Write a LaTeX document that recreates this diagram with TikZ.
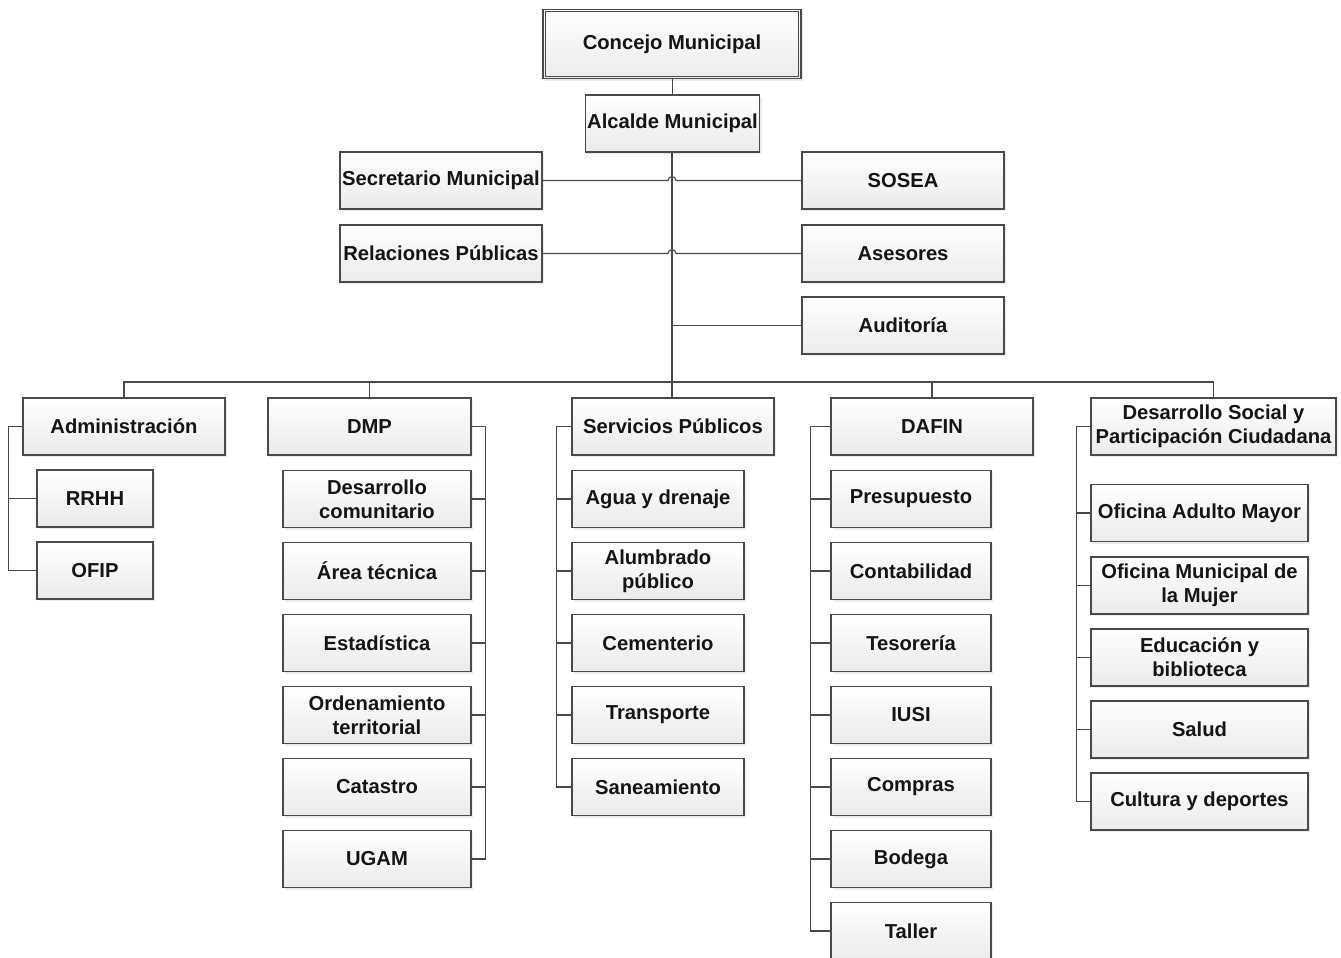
\documentclass[tikz,border=0pt]{standalone}
\usepackage{fontspec}
\setmainfont{Liberation Sans}
\usetikzlibrary{shadows,calc}
\definecolor{edge}{HTML}{4A4A4A}
\definecolor{txt}{HTML}{151515}
\tikzset{
  box/.style={draw=edge, line width=1.1pt, top color=white, bottom color=black!8,
    drop shadow={opacity=0.15, shadow xshift=2pt, shadow yshift=-2pt},
    minimum height=57pt, inner sep=2pt, align=center, text=txt,
    font=\bfseries\fontsize{20.2}{24}\selectfont},
  conn/.style={draw=edge, line width=1.1pt}
}
\begin{document}
\begin{tikzpicture}[x=1pt,y=-1pt]
\useasboundingbox (0,0) rectangle (1341,958);
% top
\node[box, minimum width=258pt, minimum height=69pt] (cm) at (672,44) {Concejo Municipal};
\draw[draw=edge, line width=1pt] ([shift={(3pt,-3pt)}]cm.north west) rectangle ([shift={(-3pt,3pt)}]cm.south east);
\node[box, minimum width=173pt] (am) at (672.5,123.5) {Alcalde Municipal};
\node[box, minimum width=202pt] (sec) at (441,180.5) {Secretario Municipal};
\node[box, minimum width=202pt] (rp) at (441,253.5) {Relaciones Públicas};
\node[box, minimum width=202pt] (sosea) at (903,180.5) {SOSEA};
\node[box, minimum width=202pt] (ases) at (903,253.5) {Asesores};
\node[box, minimum width=202pt] (aud) at (903,325.5) {Auditoría};
\coordinate (bus) at (672,382);
\draw[conn] (cm.south -| am.north) -- (am.north);
\draw[conn] (am.south -| bus) -- (bus);
\draw[conn] (sec.east) -- ($(sec.east -| bus)+(-4pt,0)$) arc[start angle=180, end angle=0, radius=4pt] -- (sosea.west);
\draw[conn] (rp.east) -- ($(rp.east -| bus)+(-4pt,0)$) arc[start angle=180, end angle=0, radius=4pt] -- (ases.west);
\draw[conn] (aud.west -| bus) -- (aud.west);
% level 2
\node[box, minimum width=202pt] (adm) at (124,426.5) {Administración};
\node[box, minimum width=203pt] (dmp) at (369.5,426.5) {DMP};
\node[box, minimum width=202pt] (sp) at (673,426.5) {Servicios Públicos};
\node[box, minimum width=202pt] (dafin) at (932,426.5) {DAFIN};
\node[box, minimum width=245pt] (ds) at (1213.5,426.5) {Desarrollo Social y\\Participación Ciudadana};
\draw[conn] (adm.north) -- (adm.north |- bus) -- (ds.north |- bus) -- (ds.north);
\draw[conn] (dmp.north) -- (dmp.north |- bus);
\draw[conn] (sp.north -| bus) -- (bus);
\draw[conn] (dafin.north) -- (dafin.north |- bus);
% Administracion
\node[box, minimum width=116pt] (rrhh) at (95,498.5) {RRHH};
\node[box, minimum width=116pt] (ofip) at (95,570.5) {OFIP};
\draw[conn] (adm.west) -- ++(-14,0) |- (ofip.west);
\draw[conn] (rrhh.west) -- ++(-28,0);
% DMP
\node[box, minimum width=188pt] (d1) at (377,499) {Desarrollo\\comunitario};
\node[box, minimum width=188pt] (d2) at (377,571) {Área técnica};
\node[box, minimum width=188pt] (d3) at (377,643) {Estadística};
\node[box, minimum width=188pt] (d4) at (377,715) {Ordenamiento\\territorial};
\node[box, minimum width=188pt] (d5) at (377,787) {Catastro};
\node[box, minimum width=188pt] (d6) at (377,859) {UGAM};
\draw[conn] (dmp.east) -- ++(14,0) |- (d6.east);
\foreach \n in {d1,d2,d3,d4,d5} \draw[conn] (\n.east) -- ++(14,0);
% Servicios
\node[box, minimum width=172pt] (s1) at (658,499) {Agua y drenaje};
\node[box, minimum width=172pt] (s2) at (658,571) {Alumbrado\\público};
\node[box, minimum width=172pt] (s3) at (658,643) {Cementerio};
\node[box, minimum width=172pt] (s4) at (658,715) {Transporte};
\node[box, minimum width=172pt] (s5) at (658,787) {Saneamiento};
\draw[conn] (sp.west) -- ++(-15,0) |- (s5.west);
\foreach \n in {s1,s2,s3,s4} \draw[conn] (\n.west) -- ++(-15,0);
% DAFIN
\node[box, minimum width=160pt] (f1) at (911,499) {Presupuesto};
\node[box, minimum width=160pt] (f2) at (911,571) {Contabilidad};
\node[box, minimum width=160pt] (f3) at (911,643) {Tesorería};
\node[box, minimum width=160pt] (f4) at (911,715) {IUSI};
\node[box, minimum width=160pt] (f5) at (911,787) {Compras};
\node[box, minimum width=160pt] (f6) at (911,859) {Bodega};
\node[box, minimum width=160pt] (f7) at (911,931) {Taller};
\draw[conn] (dafin.west) -- ++(-20,0) |- (f7.west);
\foreach \n in {f1,f2,f3,f4,f5,f6} \draw[conn] (\n.west) -- ++(-20,0);
% Desarrollo Social
\node[box, minimum width=217pt] (g1) at (1199.5,513) {Oficina Adulto Mayor};
\node[box, minimum width=217pt] (g2) at (1199.5,585.5) {Oficina Municipal de\\la Mujer};
\node[box, minimum width=217pt] (g3) at (1199.5,657.5) {Educación y\\biblioteca};
\node[box, minimum width=217pt] (g4) at (1199.5,729.5) {Salud};
\node[box, minimum width=217pt] (g5) at (1199.5,801.5) {Cultura y deportes};
\draw[conn] (ds.west) -- ++(-14,0) |- (g5.west);
\foreach \n in {g1,g2,g3,g4} \draw[conn] (\n.west) -- ++(-14,0);
\end{tikzpicture}
\end{document}
